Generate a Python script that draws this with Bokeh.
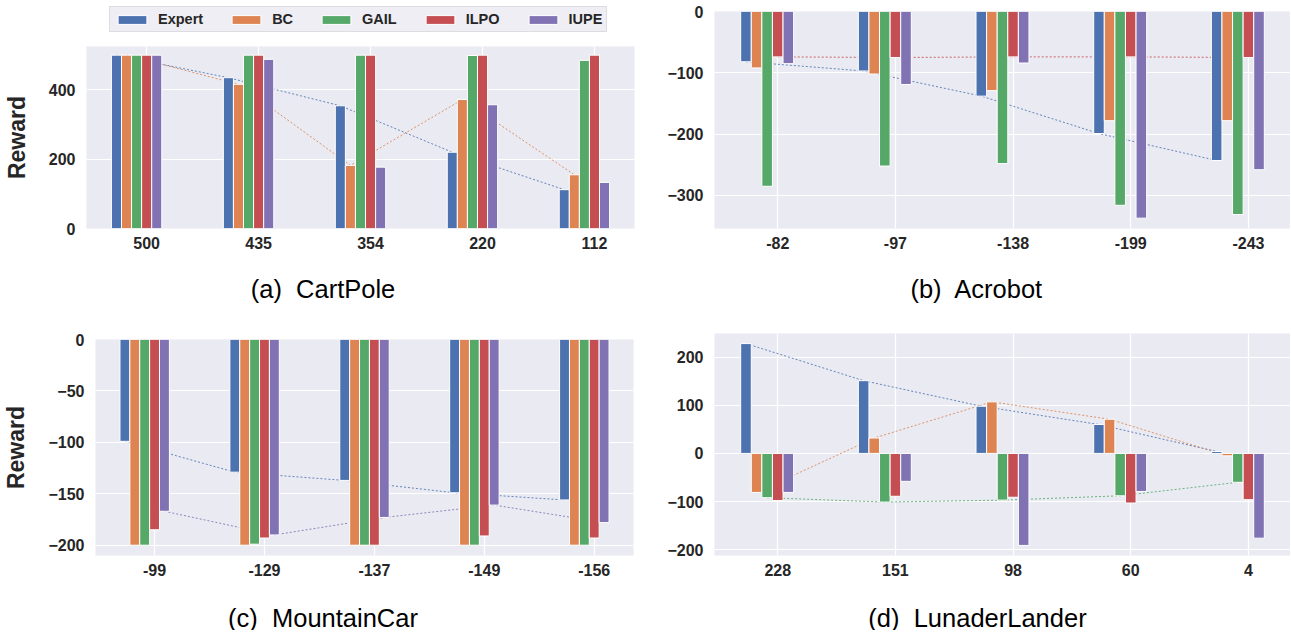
import numpy as np
from bokeh.plotting import figure
from bokeh.layouts import row, column
from bokeh.models import Range1d, FixedTicker, Legend, LegendItem
from bokeh.core.properties import value
from bokeh.embed import file_html
from bokeh.resources import INLINE

# ---------------- data ----------------
methods = ["Expert", "BC", "GAIL", "ILPO", "IUPE"]
colors = ["#4C72B0", "#DD8452", "#55A868", "#C44E52", "#8172B3"]

cartpole_labels = ["500", "435", "354", "220", "112"]
cartpole_expert = [500, 435, 354, 220, 112]
cartpole_bc = [500, 416, 182, 372, 155]
cartpole_gail = [500, 500, 500, 499, 485]
cartpole_ilpo = [500, 500, 500, 500, 500]
cartpole_iupe = [500, 488, 177, 357, 133]

acrobot_labels = ["-82", "-97", "-138", "-199", "-243"]
acrobot_expert = [-82, -97, -138, -199, -243]
acrobot_bc = [-92, -102, -129, -178, -178]
acrobot_gail = [-285, -252, -248, -316, -331]
acrobot_ilpo = [-74, -75, -74, -74, -75]
acrobot_iupe = [-85, -119, -84, -337, -258]

mountaincar_labels = ["-99", "-129", "-137", "-149", "-156"]
mountaincar_expert = [-99, -129, -137, -149, -156]
mountaincar_bc = [-200, -200, -200, -200, -200]
mountaincar_gail = [-200, -199, -200, -200, -200]
mountaincar_ilpo = [-185, -193, -200, -191, -193]
mountaincar_iupe = [-167, -190, -173, -161, -178]

lunar_labels = ["228", "151", "98", "60", "4"]
lunar_expert = [228, 151, 98, 60, 4]
lunar_bc = [-81, 32, 107, 71, -5]
lunar_gail = [-92, -101, -97, -88, -60]
lunar_ilpo = [-98, -89, -91, -103, -96]
lunar_iupe = [-81, -58, -191, -79, -176]

# which methods have a dotted trend line in each panel
cartpole_trend = ["Expert", "BC"]
acrobot_trend = ["Expert", "ILPO"]
mountaincar_trend = ["Expert", "IUPE"]
lunar_trend = ["Expert", "BC", "GAIL"]

cartpole_yticks = [0, 200, 400]
acrobot_yticks = [0, -100, -200, -300]
mountaincar_yticks = [0, -50, -100, -150, -200]
lunar_yticks = [-200, -100, 0, 100, 200]

captions_top = ["(a)\u00a0 CartPole", "(b)\u00a0 Acrobot"]
captions_bottom = ["(c)\u00a0 MountainCar", "(d)\u00a0 LunaderLander"]

# ---------------- style ----------------
FONT = "Liberation Sans"
TXT = "#262626"
BAR_W = 0.09
OFFSETS = [-0.27, -0.18, -0.09, 0.0, 0.09]
TOTAL_W = 1290
COL_W = 645


def no_align(fig):
    if "frame_align" in fig.properties():
        fig.frame_align = False
    return fig


def make_panel(cat_labels, series, trend, yticks, width, height,
               fl, ft, fw, fh, ylabel=False):
    allv = [v for s in series for v in s]
    lo, hi = min(min(allv), 0), max(max(allv), 0)
    span = hi - lo
    y0 = lo - 0.05 * span if lo < 0 else 0
    y1 = hi + 0.05 * span if hi > 0 else 0
    n = len(cat_labels)
    x0 = OFFSETS[0] - BAR_W / 2
    x1 = (n - 1) + OFFSETS[-1] + BAR_W / 2
    xs = x1 - x0
    p = figure(width=width, height=height,
               x_range=Range1d(x0 - 0.05 * xs, x1 + 0.05 * xs),
               y_range=Range1d(y0, y1),
               output_backend="svg", toolbar_location=None,
               min_border_left=fl, min_border_top=ft,
               min_border_right=width - fl - fw,
               min_border_bottom=height - ft - fh)
    no_align(p)
    p.background_fill_color = "#EAEAF2"
    p.border_fill_color = "white"
    p.outline_line_color = None

    idx = np.arange(n)
    for name in trend:
        j = methods.index(name)
        p.line(idx + OFFSETS[j], series[j], line_color=colors[j], line_width=1,
               line_dash="2 2", line_alpha=0.85)
    for j, s in enumerate(series):
        p.vbar(x=idx + OFFSETS[j], top=s, bottom=0, width=BAR_W,
               fill_color=colors[j], line_color="white", line_width=1)

    xt = FixedTicker(ticks=list(range(n)))
    p.xaxis.ticker = xt
    p.xgrid.ticker = xt
    p.xaxis.major_label_overrides = {i: lab for i, lab in enumerate(cat_labels)}
    yt = FixedTicker(ticks=yticks)
    p.yaxis.ticker = yt
    p.ygrid.ticker = yt
    p.yaxis.major_label_overrides = {t: str(t).replace("-", "\u2212") for t in yticks}

    p.grid.grid_line_color = "white"
    p.grid.grid_line_width = 1.2
    for ax in (p.xaxis, p.yaxis):
        ax.axis_line_color = None
        ax.major_tick_line_color = None
        ax.minor_tick_line_color = None
        ax.major_tick_out = 0
        ax.major_tick_in = 0
        ax.major_label_text_font = FONT
        ax.major_label_text_font_style = "bold"
        ax.major_label_text_font_size = "16px"
        ax.major_label_text_color = TXT
    p.xaxis.major_label_standoff = 8
    p.yaxis.major_label_standoff = 11
    if ylabel:
        p.yaxis.axis_label = "Reward"
        p.yaxis.axis_label_text_font = FONT
        p.yaxis.axis_label_text_font_style = "bold"
        p.yaxis.axis_label_text_font_size = "23px"
        p.yaxis.axis_label_text_color = TXT
        p.yaxis.axis_label_standoff = 16
    return p


def blank_strip(width, height):
    s = figure(width=width, height=height, x_range=Range1d(0, width),
               y_range=Range1d(0, height), output_backend="svg",
               toolbar_location=None, x_axis_location=None, y_axis_location=None,
               min_border_left=0, min_border_right=0, min_border_top=0,
               min_border_bottom=0)
    no_align(s)
    s.grid.visible = False
    s.outline_line_color = None
    s.background_fill_color = "white"
    s.border_fill_color = "white"
    return s


def legend_strip(width, height, left, top, box_h=25):
    s = blank_strip(width, height)
    rends = []
    for m, c in zip(methods, colors):
        # hidden proxy renderers: they only lend their style to the legend
        r = s.vbar(x=[0], top=[0], width=BAR_W, fill_color=c, line_color="white",
                   line_width=1, visible=False)
        rends.append(r)
    items = [LegendItem(label=m, renderers=[r]) for m, r in zip(methods, rends)]
    leg = Legend(items=items, location=(left, height - top - box_h),
                 orientation="horizontal",
                 glyph_width=36, glyph_height=11, label_standoff=8, spacing=25,
                 padding=4, margin=0,
                 label_text_font=FONT, label_text_font_style="bold",
                 label_text_font_size="14.5px", label_text_color=TXT,
                 background_fill_color="#EEEEF4", background_fill_alpha=1.0,
                 border_line_color="#CCCCCC", border_line_width=1,
                 inactive_fill_alpha=0.0, click_policy="none")
    s.add_layout(leg)
    return s


def caption_strip(texts, centers, height, cy):
    s = blank_strip(TOTAL_W, height)
    s.text(x=centers, y=[height - cy] * len(texts), text=texts,
           text_align="center", text_baseline="middle",
           text_font=value(FONT), text_font_size=value("25.5px"),
           text_color="black")
    return s


pa = make_panel(cartpole_labels,
                [cartpole_expert, cartpole_bc, cartpole_gail, cartpole_ilpo, cartpole_iupe],
                cartpole_trend, cartpole_yticks,
                COL_W, 218, 85, 6, 549, 182, ylabel=True)
pb = make_panel(acrobot_labels,
                [acrobot_expert, acrobot_bc, acrobot_gail, acrobot_ilpo, acrobot_iupe],
                acrobot_trend, acrobot_yticks,
                COL_W, 258, 69, 11, 576, 217)
pc = make_panel(mountaincar_labels,
                [mountaincar_expert, mountaincar_bc, mountaincar_gail, mountaincar_ilpo, mountaincar_iupe],
                mountaincar_trend, mountaincar_yticks,
                COL_W, 266, 94, 21, 539, 216, ylabel=True)
pd_ = make_panel(lunar_labels,
                 [lunar_expert, lunar_bc, lunar_gail, lunar_ilpo, lunar_iupe],
                 lunar_trend, lunar_yticks,
                 COL_W, 266, 69, 15, 576, 222)

leg_strip = legend_strip(COL_W, 40, 109, 7)
cap_top = caption_strip(captions_top, [322.5, 976.5], 60, 30)
cap_bot = caption_strip(captions_bottom, [322.5, 977], 46, 33)

layout = column(row(column(leg_strip, pa), pb), cap_top, row(pc, pd_), cap_bot)
open("out.html", "w").write(file_html(layout, INLINE))
